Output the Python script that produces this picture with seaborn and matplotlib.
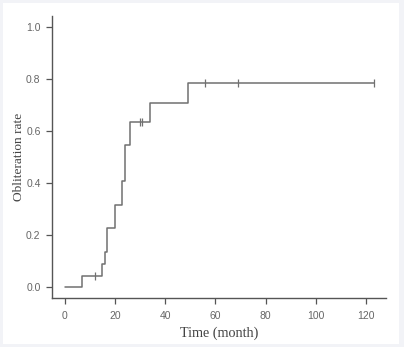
import matplotlib
matplotlib.use("Agg")
import matplotlib.pyplot as plt
import seaborn as sns
import pandas as pd
from matplotlib.patches import Rectangle

# Step curve (cumulative obliteration rate, Kaplan-Meier style)
step_time = [0, 7, 15, 16, 17, 20, 23, 24, 26, 34, 49, 123]
step_rate = [0.0, 0.043, 0.089, 0.135, 0.226, 0.317, 0.408, 0.545, 0.636, 0.709, 0.782, 0.782]

# Censored observations
cens_time = [12, 30, 31, 56, 69, 123]
cens_rate = [0.043, 0.636, 0.636, 0.782, 0.782, 0.782]

x_ticks = [0, 20, 40, 60, 80, 100, 120]
y_ticks = [0.0, 0.2, 0.4, 0.6, 0.8, 1.0]
x_label = "Time (month)"
y_label = "Obliteration rate"

sns.set_theme(style="white")
plt.rcParams['font.family'] = ['Liberation Sans', 'DejaVu Sans']

fig = plt.figure(figsize=(4.04, 3.47), dpi=100, facecolor="#f2f3f7")
fig.patches.append(Rectangle((3 / 404, 3 / 347), 396 / 404, 341 / 347,
                             transform=fig.transFigure, facecolor="white",
                             edgecolor="none", zorder=-1))
ax = fig.add_axes([0.128, 0.1403, 0.827, 0.8137])
ax.set_facecolor("white")

line_col = "#707070"
df = pd.DataFrame({"t": step_time, "r": step_rate})
sns.lineplot(data=df, x="t", y="r", ax=ax, drawstyle="steps-post",
             color=line_col, linewidth=1.1, estimator=None, sort=False)
cdf = pd.DataFrame({"t": cens_time, "r": cens_rate})
sns.scatterplot(data=cdf, x="t", y="r", ax=ax, marker="|", s=36,
                color=line_col, linewidth=0.9)

ax.set_xlim(-5.1, 127.8)
ax.set_ylim(-0.042, 1.041)
ax.set_xticks(x_ticks)
ax.set_yticks(y_ticks)
ax.set_xticklabels([str(v) for v in x_ticks])
ax.set_yticklabels([f"{v:.1f}" for v in y_ticks])

for s in ["top", "right"]:
    ax.spines[s].set_visible(False)
for s in ["left", "bottom"]:
    ax.spines[s].set_color("#555555")
    ax.spines[s].set_linewidth(1.0)

ax.tick_params(axis="both", direction="out", length=4, width=0.9,
               color="#555555", labelcolor="#666666", labelsize=7.5,
               left=True, bottom=True)
ax.tick_params(axis="x", pad=5)
ax.tick_params(axis="y", pad=4)

ax.set_xlabel(x_label, family="Liberation Serif", fontsize=10.2,
              color="#444444", labelpad=4)
ax.set_ylabel(y_label, family="Liberation Serif", fontsize=9.6,
              color="#444444", labelpad=1)

fig.savefig("out.png", dpi=100, facecolor=fig.get_facecolor())
